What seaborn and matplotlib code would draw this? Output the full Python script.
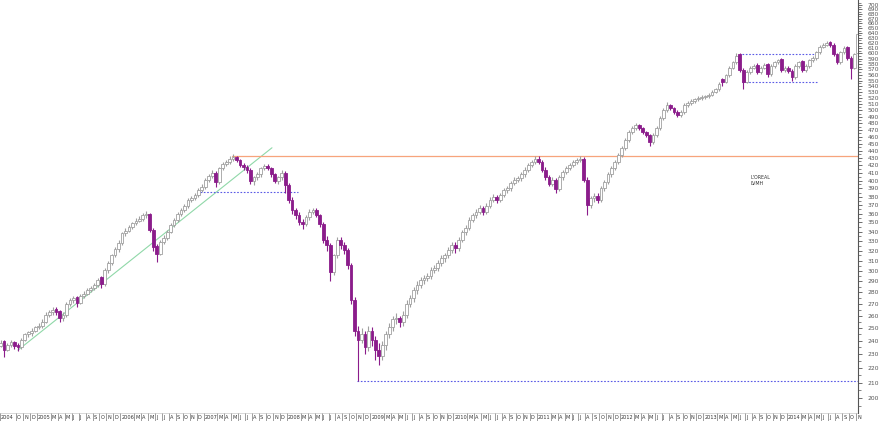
import numpy as np
import pandas as pd
import matplotlib
matplotlib.use("Agg")
import matplotlib.pyplot as plt
import seaborn as sns
from matplotlib.ticker import FixedLocator, NullFormatter, FixedFormatter

# ---------------- data: semimonthly candles (slot k -> year + (k+0.5)/24) ----------------
first_slot = {2004: 13}

open_2004 = [236, 240, 233, 237, 239, 237, 235, 241, 245, 246, 248]
high_2004 = [241, 241, 238, 241, 240, 238, 242, 246, 248, 250, 252]
low_2004 = [235, 228, 232, 235, 234, 232, 234, 240, 243, 244, 247]
close_2004 = [238, 233, 237, 239, 236, 235, 241, 245, 247, 248, 251]

open_2005 = [251, 252, 255, 261, 263, 266, 264, 258, 261, 270, 273, 276, 271, 277, 279, 282, 284, 287, 294, 288, 301, 308, 315, 322]
high_2005 = [254, 257, 263, 265, 267, 267, 265, 263, 272, 275, 277, 277, 279, 281, 284, 286, 289, 293, 295, 303, 310, 317, 324, 331]
low_2005 = [249, 250, 254, 259, 261, 261, 255, 256, 259, 268, 271, 267, 270, 275, 278, 280, 282, 285, 284, 286, 298, 306, 313, 319]
close_2005 = [252, 255, 261, 263, 265, 263, 258, 261, 270, 273, 275, 271, 277, 279, 282, 284, 287, 291, 288, 301, 308, 315, 322, 328]

open_2006 = [328, 338, 341, 345, 349, 352, 354, 358, 360, 342, 325, 317, 329, 333, 340, 347, 353, 360, 364, 369, 376, 378, 382, 388]
high_2006 = [340, 344, 347, 351, 355, 357, 361, 363, 361, 344, 327, 331, 336, 342, 349, 355, 362, 366, 371, 378, 381, 385, 390, 395]
low_2006 = [326, 335, 339, 343, 347, 350, 352, 355, 339, 320, 309, 315, 327, 331, 338, 345, 351, 357, 362, 367, 373, 376, 380, 386]
close_2006 = [338, 341, 345, 349, 352, 354, 358, 359, 342, 324, 317, 329, 333, 340, 347, 353, 360, 364, 369, 376, 378, 382, 388, 392]

open_2007 = [392, 401, 406, 410, 398, 416, 422, 424, 429, 431, 427, 420, 418, 414, 399, 404, 408, 416, 419, 416, 408, 400, 404, 410]
high_2007 = [403, 409, 413, 412, 418, 424, 427, 432, 435, 433, 429, 423, 420, 416, 406, 411, 418, 422, 421, 418, 410, 406, 413, 412]
low_2007 = [389, 398, 403, 392, 396, 413, 419, 421, 426, 424, 417, 414, 410, 396, 394, 401, 405, 413, 413, 405, 397, 396, 401, 385]
close_2007 = [401, 406, 410, 398, 416, 422, 424, 429, 431, 427, 420, 418, 414, 399, 404, 408, 416, 419, 416, 408, 400, 404, 410, 394]

open_2008 = [394, 376, 364, 358, 351, 348, 356, 362, 364, 358, 348, 331, 326, 299, 315, 331, 326, 321, 306, 273, 248, 241, 245, 235]
high_2008 = [397, 379, 367, 362, 354, 358, 365, 367, 366, 360, 350, 335, 328, 317, 334, 334, 329, 323, 308, 276, 252, 250, 248, 252]
low_2008 = [372, 360, 354, 347, 343, 346, 353, 359, 356, 345, 328, 320, 290, 296, 312, 322, 317, 302, 270, 244, 211, 238, 230, 232]
close_2008 = [376, 364, 358, 351, 348, 356, 362, 364, 358, 348, 331, 326, 299, 315, 331, 326, 321, 306, 273, 248, 241, 245, 235, 248]

open_2009 = [248, 241, 233, 229, 237, 245, 251, 257, 258, 255, 261, 270, 275, 282, 287, 291, 293, 295, 301, 303, 308, 312, 315, 321]
high_2009 = [251, 244, 238, 240, 248, 254, 260, 262, 260, 264, 273, 278, 285, 290, 294, 296, 298, 304, 306, 311, 315, 318, 324, 329]
low_2009 = [236, 226, 222, 226, 233, 242, 248, 253, 251, 252, 258, 267, 272, 279, 284, 288, 290, 292, 298, 300, 305, 309, 312, 318]
close_2009 = [241, 233, 229, 237, 245, 251, 257, 258, 255, 261, 270, 275, 282, 287, 291, 293, 295, 301, 303, 308, 312, 315, 321, 326]

open_2010 = [326, 323, 331, 339, 344, 353, 358, 362, 367, 362, 369, 376, 380, 376, 382, 388, 390, 397, 401, 403, 408, 414, 420, 424]
high_2010 = [329, 334, 342, 347, 356, 361, 365, 370, 369, 372, 379, 383, 382, 385, 391, 393, 400, 404, 406, 411, 417, 423, 427, 432]
low_2010 = [318, 320, 329, 336, 342, 350, 355, 359, 358, 359, 366, 373, 372, 373, 380, 385, 387, 394, 398, 400, 405, 411, 418, 421]
close_2010 = [323, 331, 339, 344, 353, 358, 362, 367, 362, 369, 376, 380, 376, 382, 388, 390, 397, 401, 403, 408, 414, 420, 424, 429]

open_2011 = [429, 424, 414, 404, 396, 401, 389, 404, 411, 416, 420, 424, 427, 429, 401, 370, 378, 381, 376, 390, 398, 408, 416, 424]
high_2011 = [432, 427, 417, 407, 404, 403, 407, 414, 419, 423, 427, 430, 433, 431, 404, 381, 384, 384, 393, 401, 411, 419, 427, 437]
low_2011 = [421, 411, 401, 393, 393, 385, 387, 401, 408, 413, 417, 421, 424, 398, 358, 366, 374, 372, 374, 387, 395, 405, 413, 421]
close_2011 = [424, 414, 404, 396, 401, 389, 404, 411, 416, 420, 424, 427, 429, 401, 370, 378, 381, 376, 390, 398, 408, 416, 424, 434]

open_2012 = [434, 444, 455, 467, 473, 477, 473, 467, 462, 452, 462, 473, 488, 501, 509, 504, 498, 493, 498, 509, 512, 515, 518, 520]
high_2012 = [447, 458, 470, 476, 481, 479, 475, 469, 464, 465, 476, 491, 504, 513, 511, 506, 500, 501, 512, 515, 518, 521, 523, 525]
low_2012 = [431, 441, 452, 464, 470, 470, 464, 459, 446, 449, 459, 470, 485, 498, 501, 495, 489, 490, 495, 506, 509, 512, 515, 517]
close_2012 = [444, 455, 467, 473, 477, 473, 467, 462, 452, 462, 473, 488, 501, 509, 504, 498, 493, 498, 509, 512, 515, 518, 520, 522]

open_2013 = [522, 523, 526, 531, 535, 552, 548, 559, 573, 583, 598, 569, 548, 565, 573, 578, 565, 573, 580, 561, 576, 583, 589, 569]
high_2013 = [526, 529, 534, 538, 547, 555, 562, 576, 586, 601, 600, 572, 568, 576, 580, 581, 576, 581, 582, 579, 586, 590, 591, 576]
low_2013 = [519, 520, 524, 528, 532, 541, 545, 556, 570, 580, 566, 535, 545, 562, 570, 562, 562, 570, 557, 558, 573, 580, 566, 566]
close_2013 = [523, 526, 531, 535, 544, 548, 559, 573, 583, 595, 569, 548, 565, 573, 576, 565, 573, 578, 561, 576, 583, 587, 569, 573]

open_2014 = [573, 567, 556, 576, 585, 569, 576, 587, 591, 602, 613, 617, 621, 617, 598, 583, 602, 613, 591, 573, 600]
high_2014 = [576, 570, 579, 586, 588, 579, 590, 594, 605, 616, 620, 624, 624, 620, 600, 605, 614, 615, 594, 601, 642]
low_2014 = [563, 550, 553, 573, 566, 566, 573, 584, 588, 599, 610, 614, 613, 595, 580, 580, 599, 588, 553, 570, 597]
close_2014 = [567, 556, 576, 583, 569, 576, 587, 591, 602, 613, 617, 619, 617, 598, 583, 602, 611, 591, 573, 598, 637]

# reference lines (start date, end date, price, price)
trend_dates = [2004.772, 2007.821]
trend_prices = [233, 444]
resist_price = 432
resist_start = 2007.34
support_2007 = (2006.957, 2008.133, 386)
support_2009 = (2008.842, 2014.856, 211)
range_top = (2013.463, 2014.376, 598)
range_bottom = (2013.463, 2014.376, 547)

y_ticks = list(range(200, 701, 10))
month_letters = ["J", "F", "M", "A", "M", "J", "J", "A", "S", "O", "N", "D"]

# ---------------- build table ----------------
rows = []
for yr in range(2004, 2015):
    o = globals()[f"open_{yr}"]; h = globals()[f"high_{yr}"]
    l = globals()[f"low_{yr}"]; c = globals()[f"close_{yr}"]
    k0 = first_slot.get(yr, 0)
    for i in range(len(c)):
        rows.append(dict(date=yr + (k0 + i + 0.5) / 24, open=o[i], high=h[i], low=l[i], close=c[i]))
df = pd.DataFrame(rows)
df["up"] = df["close"] >= df["open"]

# ---------------- figure ----------------
sns.set_theme(style="white")
plt.rcParams["font.family"] = ["DejaVu Sans"]
W, H = 880, 421
fig = plt.figure(figsize=(W / 100, H / 100), dpi=100)
fig.patch.set_facecolor("white")
ax = fig.add_axes([0, (H - 413) / H, 858 / W, 413 / H])
ax.set_facecolor("white")

X0, X1 = 2004.556, 2014.856
ax.set_xlim(X0, X1)
ax.set_yscale("log")
ax.set_ylim(190.7, 711)

purple = "#8b1c8b"
grey = "#a0a0a0"
bw = 0.8 / 24

# wicks
for up, col in [(True, grey), (False, purple)]:
    d = df[df["up"] == up]
    ax.vlines(d["date"], d["low"], d["high"], color=col, linewidth=0.8, zorder=3)
# bodies
d = df[df["up"]]
ax.bar(d["date"], (d["close"] - d["open"]).clip(lower=0.8), bottom=d["open"], width=bw,
       color="white", edgecolor=grey, linewidth=0.6, zorder=4)
d = df[~df["up"]]
ax.bar(d["date"], d["open"] - d["close"], bottom=d["close"], width=bw,
       color=purple, edgecolor=purple, linewidth=0.6, zorder=4)

# reference lines via seaborn
sns.lineplot(x=trend_dates, y=trend_prices, ax=ax, color="#8fd8a8", linewidth=0.8, zorder=2)
sns.lineplot(x=[resist_start, X1], y=[resist_price, resist_price], ax=ax, color="#f7a47c", linewidth=0.9, zorder=2)
for (a, b, p) in [support_2007, support_2009, range_top, range_bottom]:
    sns.lineplot(x=[a, b], y=[p, p], ax=ax, color="#5a5ae6", linewidth=0.8, linestyle=(0, (1.5, 1.5)), zorder=2)

ax.text(2013.56, 404, "L'OREAL", fontsize=3.4, color="#333333", va="center", ha="left")
ax.text(2013.56, 396, "LVMH", fontsize=3.4, color="#333333", va="center", ha="left")

# right price axis
for s in ["left", "top", "bottom"]:
    ax.spines[s].set_visible(False)
ax.spines["right"].set_color("#555555")
ax.spines["right"].set_linewidth(0.8)
ax.yaxis.tick_right()
ax.yaxis.set_major_locator(FixedLocator(y_ticks))
ax.yaxis.set_major_formatter(FixedFormatter([str(v) for v in y_ticks]))
ax.yaxis.set_minor_locator(FixedLocator([v + 5 for v in range(190, 701, 10)]))
ax.yaxis.set_minor_formatter(NullFormatter())
ax.tick_params(axis="y", which="major", direction="out", length=3, width=0.6, color="#555555",
               labelsize=4.3, labelcolor="#555555", pad=4)
ax.tick_params(axis="y", which="minor", direction="out", length=1.8, width=0.5, color="#555555")
ax.set_xticks([])
ax.set_xlabel(""); ax.set_ylabel("")
ax.grid(False)

# date strip
sx = fig.add_axes([0, 0, 858 / W, 8 / H])
sx.set_xlim(X0, X1)
sx.set_ylim(0, 1)
sx.axis("off")
months = []
y, m = 2004, 9
while (y, m) <= (2014, 11):
    months.append((y, m))
    m += 1
    if m > 12:
        m = 1; y += 1
for i, (y, m) in enumerate(months):
    pos = y + (m - 1) / 12
    if m == 2:
        continue
    if i == 0:
        lab, pos = str(y), X0
    else:
        lab = str(y) if m == 1 else month_letters[m - 1]
    sx.plot([pos, pos], [0, 1], color="#777777", linewidth=0.5)
    sx.text(pos + 0.012, 0.45, lab, fontsize=3.6, color="#333333", va="center", ha="left")
sx.plot([X0, X1], [1, 1], color="#bbbbbb", linewidth=0.4)

fig.savefig("out.png", dpi=100, facecolor="white")
